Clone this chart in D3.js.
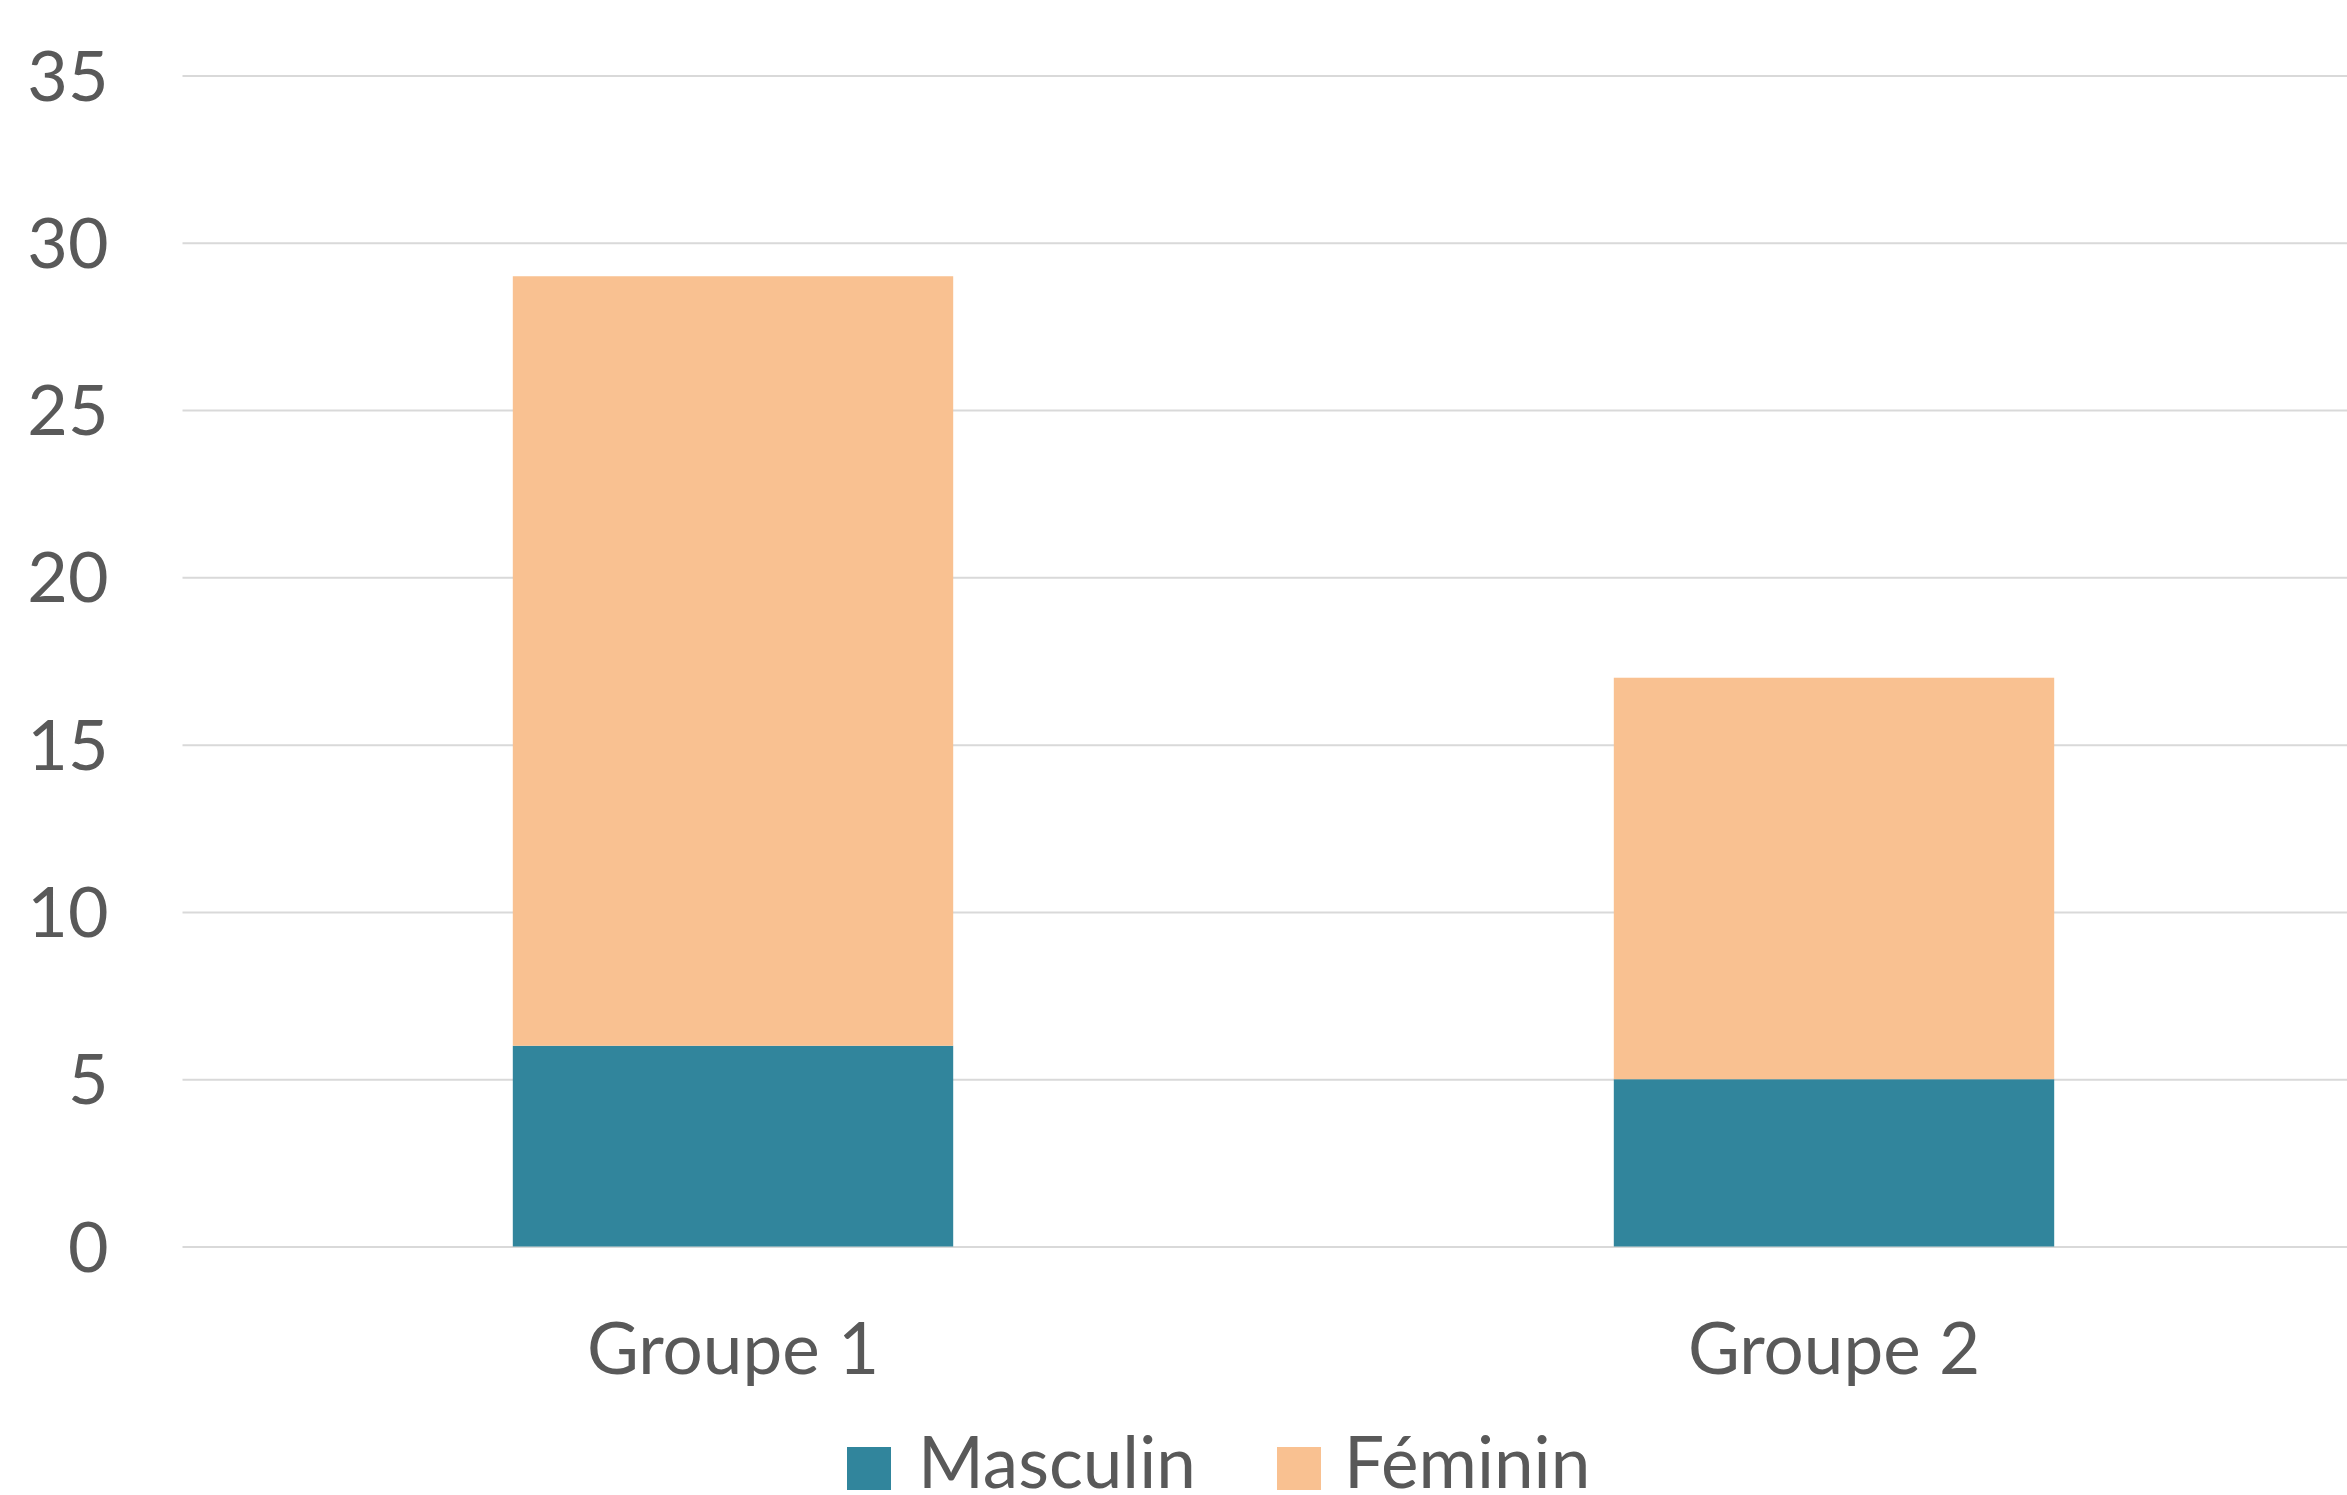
<!DOCTYPE html>
<html>
<head>
<meta charset="utf-8">
<script src="https://cdn.jsdelivr.net/npm/d3@7"></script>
<style>
  html, body { margin: 0; padding: 0; background: #ffffff; }
  svg { display: block; }
  text { font-family: Lato, "Open Sans", sans-serif; fill: #595959; }
</style>
</head>
<body>
<svg id="chart" width="2347" height="1495"></svg>
<script>
const categories = ["Groupe 1", "Groupe 2"];
const seriesNames = ["Masculin", "Féminin"];
const masculin = [6, 5];
const feminin = [23, 12];
const yTicks = [0, 5, 10, 15, 20, 25, 30, 35];
const colors = ["#31859C", "#F9C191"];

const W = 2347, H = 1495;
const svg = d3.select("#chart");

const x = d3.scaleBand().domain(categories).range([182.5, 2384.5]).paddingInner(0.6).paddingOuter(0.3);
const y = d3.scaleLinear().domain([0, 35]).range([1246.5, 75.5]);

// gridlines + y labels
const yAxis = d3.axisLeft(y).tickValues(yTicks).tickSize(-(W - 182.5)).tickPadding(74);
const gy = svg.append("g").attr("transform", "translate(182.5,0)").call(yAxis);
gy.select(".domain").remove();
gy.selectAll(".tick line").attr("stroke", "#d9d9d9").attr("stroke-width", 2);
gy.selectAll(".tick text")
  .attr("font-size", 70).attr("fill", "#595959")
  .attr("font-family", "Lato, 'Open Sans', sans-serif")
  .attr("dy", "0.35em");

// stacked data
const table = categories.map((c, i) => ({ cat: c, Masculin: masculin[i], "Féminin": feminin[i] }));
const stack = d3.stack().keys(seriesNames)(table);

svg.append("g").selectAll("g").data(stack).join("g")
  .attr("fill", (d, i) => colors[i])
  .selectAll("rect").data(d => d).join("rect")
  .attr("x", d => x(d.data.cat))
  .attr("width", x.bandwidth())
  .attr("y", d => y(d[1]))
  .attr("height", d => y(d[0]) - y(d[1]));

// x labels
const xAxis = d3.axisBottom(x).tickSize(0).tickPadding(0);
const gx = svg.append("g").attr("transform", "translate(0,1246.5)").call(xAxis);
gx.select(".domain").remove();
gx.selectAll(".tick text")
  .attr("font-size", 71).attr("fill", "#595959")
  .attr("font-family", "Lato, 'Open Sans', sans-serif")
  .attr("y", 127).attr("dy", 0);

// legend
const legendItems = [
  { name: seriesNames[0], color: colors[0], sx: 847, tx: 918 },
  { name: seriesNames[1], color: colors[1], sx: 1277, tx: 1344 }
];
const lg = svg.append("g");
legendItems.forEach(it => {
  lg.append("rect").attr("x", it.sx).attr("y", 1447).attr("width", 44).attr("height", 43).attr("fill", it.color);
  lg.append("text").attr("x", it.tx).attr("y", 1488).attr("font-size", 71).text(it.name);
});
</script>
</body>
</html>
